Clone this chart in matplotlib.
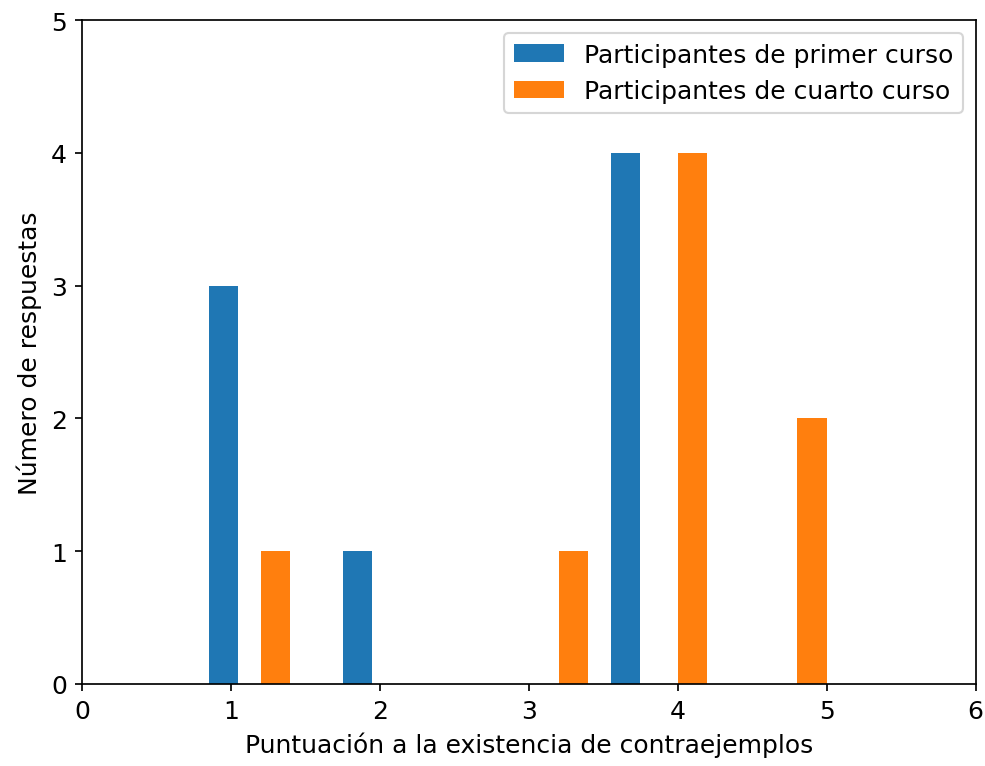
import numpy as np
import matplotlib
matplotlib.use('Agg')
import matplotlib.pyplot as plt

# Respuestas (puntuación 1-5) de cada grupo
primer_curso = [1, 1, 1, 2, 4, 4, 4, 4]
cuarto_curso = [1, 3, 4, 4, 4, 4, 5, 5]

ETIQUETAS = ["Participantes de primer curso", "Participantes de cuarto curso"]

# Desplazamiento horizontal para que las barras de ambos grupos no se solapen
DESPL_PRIMER = -0.2
DESPL_CUARTO = 0.1

plt.rcParams['font.size'] = 11.7

fig = plt.figure(figsize=(6.4, 4.98), dpi=154)
ax = fig.add_axes([0.0832, 0.1069, 0.9066, 0.8657])

ax.hist(np.array(primer_curso) + DESPL_PRIMER, bins=10, rwidth=2 / 3,
        color='tab:blue', label=ETIQUETAS[0])
ax.hist(np.array(cuarto_curso) + DESPL_CUARTO, bins=10, rwidth=0.5,
        color='tab:orange', label=ETIQUETAS[1])

ax.set_xlim(0, 6)
ax.set_ylim(0, 5)
ax.set_yticks(range(0, 6))
ax.set_xlabel("Puntuación a la existencia de contraejemplos")
ax.set_ylabel("Número de respuestas")
ax.legend(loc='upper right')

fig.savefig("out.png", dpi=154)
